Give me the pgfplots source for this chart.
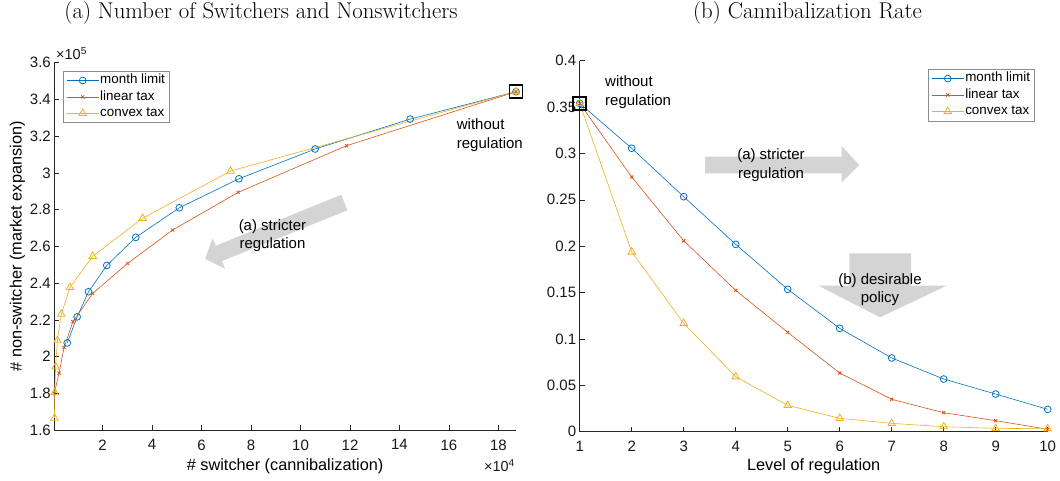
\documentclass[border=0pt]{standalone}
\usepackage{pgfplots}
\pgfplotsset{compat=1.18}
\usepackage{fontspec}
\newfontfamily\hv{Liberation Sans}

\definecolor{mblue}{rgb}{0,0.447,0.741}
\definecolor{morange}{rgb}{0.85,0.325,0.098}
\definecolor{myellow}{rgb}{0.929,0.694,0.125}
\definecolor{arrowgray}{gray}{0.83}
\definecolor{axisgray}{gray}{0.15}

\newcommand{\tickfont}{\hv\fontsize{15}{18}\selectfont}
\newcommand{\labfont}{\hv\fontsize{16.3}{19}\selectfont}
\newcommand{\legfont}{\hv\fontsize{13.4}{16}\selectfont}
\newcommand{\notefont}{\hv\fontsize{15}{18.4}\selectfont}
\newcommand{\titlefont}{\fontsize{22.8}{27}\selectfont}

\pgfplotsset{
  matlab/.style={
    scale only axis,
    axis x line*=bottom, axis y line*=left,
    axis line style={-, draw=axisgray, line width=0.6pt},
    every outer x axis line/.append style={-},
    every outer y axis line/.append style={-},
    tick align=inside, major tick length=5pt,
    tick style={draw=axisgray, line width=0.6pt},
    minor tick num=0,
    scaled ticks=false,
    /pgf/number format/assume math mode=true,
    tick label style={font=\tickfont, text=black!90},
    xticklabel style={yshift=-6pt},
    clip=false,
    legend cell align=left,
    legend image code/.code={
      \draw[mark repeat=2,mark phase=2] plot coordinates {(0pt,0pt) (16pt,0pt) (32pt,0pt)};
    },
    legend style={
      font=\legfont, draw=black!45, line width=0.6pt, fill=white,
      inner xsep=3.5pt, inner ysep=2pt, row sep=1.5pt,
      nodes={inner sep=1.2pt, text height=9.5pt, text depth=3pt},
    },
  },
  mlimit/.style={mblue, line width=0.6pt, mark=o, mark size=3.4pt, mark options={line width=0.8pt}},
  ltax/.style={morange, line width=0.6pt, mark=x, mark size=2.2pt, mark options={line width=0.8pt}},
  ctax/.style={myellow, line width=0.6pt, mark=triangle, mark size=4.3pt, mark options={line width=0.8pt}},
  nobox/.style={black, only marks, mark=square, mark size=6.5pt, mark options={line width=1.7pt}, forget plot},
}

\begin{document}
\begin{tikzpicture}
\path[use as bounding box] (0,0) rectangle (1060pt,480pt);

% ---------------- (a) switchers vs non-switchers ----------------
\begin{axis}[
  matlab,
  at={(54.3pt,50pt)}, anchor=south west,
  width=461.7pt, height=367.3pt,
  xmin=0.047, xmax=18.71, ymin=1.6, ymax=3.6,
  xtick={2,4,6,8,10,12,14,16,18},
  ytick={1.6,1.8,2,2.2,2.4,2.6,2.8,3,3.2,3.4,3.6},
  xlabel={\# switcher (cannibalization)},
  ylabel={\# non-switcher (market expansion)},
  xlabel style={font=\labfont, at={(axis description cs:0.5,0)}, anchor=base, yshift=-40pt},
  ylabel style={font=\labfont, at={(axis description cs:-0.08,0.5)}, anchor=center, rotate=0},
  legend style={at={(0.018,0.978)}, anchor=north west},
]
\addplot[mlimit] coordinates {
  (18.71,3.442) (14.43,3.293) (10.59,3.130) (7.51,2.968) (5.10,2.810)
  (3.34,2.649) (2.17,2.496) (1.43,2.353) (0.97,2.216) (0.57,2.074)};
\addlegendentry{month limit}
\addplot[ltax] coordinates {
  (18.71,3.442) (11.86,3.148) (7.48,2.894) (4.83,2.689) (3.01,2.507)
  (1.60,2.344) (0.80,2.190) (0.44,2.049) (0.24,1.910) (0.047,1.800)};
\addlegendentry{linear tax}
\addplot[ctax] coordinates {
  (18.71,3.442) (7.17,3.010) (3.62,2.753) (1.60,2.546) (0.68,2.377)
  (0.33,2.231) (0.17,2.087) (0.10,1.944) (0.065,1.804) (0.053,1.665)};
\addlegendentry{convex tax}
\addplot[nobox] coordinates {(18.71,3.442)};
\end{axis}

% ---------------- (b) cannibalization rate ----------------
\begin{axis}[
  matlab,
  at={(579.7pt,48.3pt)}, anchor=south west,
  width=468pt, height=371pt,
  xmin=1, xmax=10, ymin=0, ymax=0.4,
  xtick={1,2,3,4,5,6,7,8,9,10},
  ytick={0,0.05,0.1,0.15,0.2,0.25,0.3,0.35,0.4},
  yticklabel style={/pgf/number format/fixed, /pgf/number format/precision=2},
  xlabel={Level of regulation},
  xlabel style={font=\labfont, at={(axis description cs:0.5,0)}, anchor=base, yshift=-39pt},
  legend style={at={(0.973,0.978)}, anchor=north east},
]
\addplot[mlimit] coordinates {
  (1,0.354) (2,0.3056) (3,0.2534) (4,0.2020) (5,0.1535)
  (6,0.1115) (7,0.0795) (8,0.0568) (9,0.0406) (10,0.0241)};
\addlegendentry{month limit}
\addplot[ltax] coordinates {
  (1,0.354) (2,0.2746) (3,0.2059) (4,0.1524) (5,0.1071)
  (6,0.0633) (7,0.0349) (8,0.0205) (9,0.0119) (10,0.0026)};
\addlegendentry{linear tax}
\addplot[ctax] coordinates {
  (1,0.354) (2,0.1938) (3,0.1169) (4,0.0593) (5,0.0284)
  (6,0.0144) (7,0.0090) (8,0.0054) (9,0.0036) (10,0.0032)};
\addlegendentry{convex tax}
\addplot[nobox] coordinates {(1,0.354)};
\end{axis}

% scale factors of the left panel
\node[font=\hv\fontsize{14.5}{16}\selectfont, anchor=base west, inner sep=0pt, text=black!90]
  at (56pt,420pt) {×10\textsuperscript{5}};
\node[font=\hv\fontsize{14.5}{16}\selectfont, anchor=base east, inner sep=0pt, text=black!90]
  at (515pt,8.3pt) {×10\textsuperscript{4}};

% titles
\node[font=\titlefont] at (261pt,467pt) {(a) Number of Switchers and Nonswitchers};
\node[font=\titlefont] at (807.5pt,467pt) {(b) Cannibalization Rate};

% direction arrows
\fill[arrowgray] (341.2pt,285.2pt) -- (215.8pt,234.3pt) -- (212.7pt,241.9pt) -- (205pt,221pt)
  -- (225.1pt,211.3pt) -- (222.0pt,218.9pt) -- (347.5pt,269.8pt) -- cycle;
\fill[arrowgray] (705pt,323.3pt) -- (841.7pt,323.3pt) -- (841.7pt,334pt) -- (859.3pt,315pt)
  -- (841.7pt,297.7pt) -- (841.7pt,306.7pt) -- (705pt,306.7pt) -- cycle;
\fill[arrowgray] (849.3pt,226.7pt) -- (911pt,226.7pt) -- (911pt,194.3pt) -- (946.7pt,194.3pt)
  -- (880pt,162.7pt) -- (818.3pt,194.3pt) -- (849.3pt,194.3pt) -- cycle;

% annotations
\node[font=\notefont, align=center] at (272.5pt,244.5pt) {(a) stricter\\regulation};
\node[font=\notefont, align=center] at (771pt,315pt) {(a) stricter\\regulation};
\node[font=\notefont, align=center] at (880pt,190.3pt) {(b) desirable\\policy};
\node[font=\notefont, align=left, anchor=west, inner sep=0pt] at (456.7pt,344.8pt) {without\\regulation};
\node[font=\notefont, align=left, anchor=west, inner sep=0pt] at (605pt,387.8pt) {without\\regulation};
\end{tikzpicture}
\end{document}
